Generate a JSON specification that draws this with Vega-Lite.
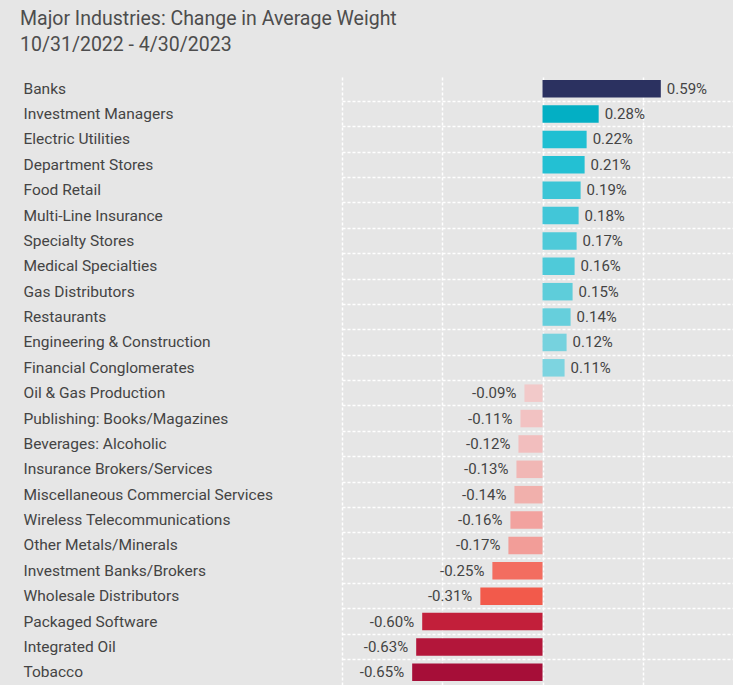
{
  "$schema": "https://vega.github.io/schema/vega-lite/v6.json",
  "width": 391,
  "height": 609,
  "padding": {"left": 20, "top": 8, "right": 0, "bottom": 0},
  "background": "#e6e6e6",
  "title": {
    "text": ["Major Industries:  Change in Average Weight", "10/31/2022 - 4/30/2023"],
    "anchor": "start",
    "frame": "bounds",
    "dx": -3,
    "font": "Roboto",
    "fontSize": 19.5,
    "fontWeight": "normal",
    "lineHeight": 26,
    "color": "#4d4d4d",
    "offset": 21
  },
  "config": {
    "view": {"stroke": null},
    "font": "Roboto",
    "locale": {"number": {"decimal": ".", "thousands": ",", "grouping": [3], "currency": ["$", ""], "minus": "-"}}
  },
  "data": {
    "values": [
      {"industry": "Banks", "change": 0.0059},
      {"industry": "Investment Managers", "change": 0.0028},
      {"industry": "Electric Utilities", "change": 0.0022},
      {"industry": "Department Stores", "change": 0.0021},
      {"industry": "Food Retail", "change": 0.0019},
      {"industry": "Multi-Line Insurance", "change": 0.0018},
      {"industry": "Specialty Stores", "change": 0.0017},
      {"industry": "Medical Specialties", "change": 0.0016},
      {"industry": "Gas Distributors", "change": 0.0015},
      {"industry": "Restaurants", "change": 0.0014},
      {"industry": "Engineering & Construction", "change": 0.0012},
      {"industry": "Financial Conglomerates", "change": 0.0011},
      {"industry": "Oil & Gas Production", "change": -0.0009},
      {"industry": "Publishing: Books/Magazines", "change": -0.0011},
      {"industry": "Beverages: Alcoholic", "change": -0.0012},
      {"industry": "Insurance Brokers/Services", "change": -0.0013},
      {"industry": "Miscellaneous Commercial Services", "change": -0.0014},
      {"industry": "Wireless Telecommunications", "change": -0.0016},
      {"industry": "Other Metals/Minerals", "change": -0.0017},
      {"industry": "Investment Banks/Brokers", "change": -0.0025},
      {"industry": "Wholesale Distributors", "change": -0.0031},
      {"industry": "Packaged Software", "change": -0.0060},
      {"industry": "Integrated Oil", "change": -0.0063},
      {"industry": "Tobacco", "change": -0.0065}
    ]
  },
  "encoding": {
    "y": {
      "field": "industry",
      "type": "nominal",
      "sort": null,
      "title": null,
      "scale": {"paddingInner": 0, "paddingOuter": 0},
      "axis": {
        "orient": "left",
        "domain": false,
        "ticks": false,
        "tickSize": 0,
        "labelAlign": "left",
        "labelPadding": 319,
        "labelFont": "Roboto",
        "labelFontSize": 15.5,
        "labelColor": "#444444",
        "labelLimit": 320,
        "grid": true,
        "bandPosition": 0,
        "gridColor": "#ffffff",
        "gridDash": [3, 2],
        "gridWidth": 1.5,
        "gridOpacity": {"condition": {"test": "datum.value === 'Banks'", "value": 0}, "value": 1}
      }
    },
    "x": {
      "field": "change",
      "type": "quantitative",
      "title": null,
      "scale": {"domain": [-0.01, 0.0095], "nice": false, "zero": true},
      "axis": {
        "values": [-0.01, -0.005, 0, 0.005],
        "labels": false,
        "ticks": false,
        "domain": false,
        "grid": true,
        "gridColor": "#ffffff",
        "gridDash": [3, 2],
        "gridWidth": 1.5
      }
    }
  },
  "layer": [
    {
      "mark": {"type": "bar", "height": {"band": 0.69}},
      "encoding": {
        "color": {
          "field": "industry",
          "type": "nominal",
          "legend": null,
          "scale": {
            "domain": ["Banks", "Investment Managers", "Electric Utilities", "Department Stores", "Food Retail", "Multi-Line Insurance", "Specialty Stores", "Medical Specialties", "Gas Distributors", "Restaurants", "Engineering & Construction", "Financial Conglomerates", "Oil & Gas Production", "Publishing: Books/Magazines", "Beverages: Alcoholic", "Insurance Brokers/Services", "Miscellaneous Commercial Services", "Wireless Telecommunications", "Other Metals/Minerals", "Investment Banks/Brokers", "Wholesale Distributors", "Packaged Software", "Integrated Oil", "Tobacco"],
            "range": ["#2b3160", "#03afc4", "#1fbfd2", "#23c0d3", "#3bc5d6", "#42c6d8", "#4fcad9", "#4fcad9", "#5ecdda", "#66cfdc", "#76d2de", "#7dd4e0", "#f2c9c9", "#f2c2c2", "#f2bebe", "#f1b7b5", "#f1b0ac", "#f2a29f", "#f29d98", "#f36d60", "#f25a4b", "#c21f3a", "#b3163a", "#a60e38"]
          }
        }
      }
    },
    {
      "transform": [{"filter": "datum.change >= 0"}],
      "mark": {"type": "text", "align": "left", "dx": 6, "fontSize": 15, "color": "#444444", "font": "Roboto"},
      "encoding": {"text": {"field": "change", "type": "quantitative", "format": ".2%"}}
    },
    {
      "transform": [{"filter": "datum.change < 0"}],
      "mark": {"type": "text", "align": "right", "dx": -8, "fontSize": 15, "color": "#444444", "font": "Roboto"},
      "encoding": {"text": {"field": "change", "type": "quantitative", "format": ".2%"}}
    }
  ]
}
